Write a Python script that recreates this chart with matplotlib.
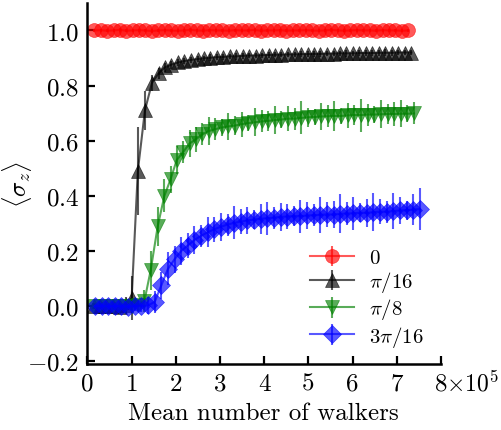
import matplotlib
matplotlib.use("Agg")
import matplotlib.pyplot as plt

plt.rcParams['font.family'] = 'serif'
plt.rcParams['font.serif'] = ['cmr10']
plt.rcParams['mathtext.fontset'] = 'cm'
plt.rcParams['axes.formatter.use_mathtext'] = True
plt.rcParams['axes.unicode_minus'] = True

# x values in units of 1e5 walkers
red_x = [0.15, 0.30, 0.44, 0.59, 0.73, 0.88, 1.02, 1.17, 1.31, 1.46, 1.60, 1.75, 1.89, 2.04, 2.18, 2.33,
         2.47, 2.62, 2.76, 2.91, 3.05, 3.20, 3.34, 3.49, 3.63, 3.78, 3.92, 4.07, 4.21, 4.36, 4.50, 4.65,
         4.79, 4.94, 5.08, 5.23, 5.37, 5.52, 5.66, 5.81, 5.95, 6.10, 6.24, 6.39, 6.53, 6.68, 6.82, 6.97,
         7.11, 7.26]
red_y = [1.0, 1.001, 0.999, 1.0, 1.002, 0.999, 1.0, 1.001, 1.0, 0.998, 1.0, 1.001, 1.0, 0.999, 1.0, 1.002,
         1.0, 0.999, 1.001, 1.0, 1.0, 0.999, 1.001, 1.0, 1.0, 1.002, 0.999, 1.0, 1.0, 1.001, 0.999, 1.0,
         1.0, 1.001, 1.0, 0.999, 1.0, 1.002, 1.0, 0.999, 1.0, 1.001, 1.0, 1.0, 0.999, 1.001, 1.0, 1.0,
         0.999, 1.0]
red_err = [0.006] * 50

black_x = [0.14, 0.29, 0.43, 0.58, 0.73, 0.87, 1.00, 1.14, 1.30, 1.46, 1.61, 1.75, 1.90, 2.05, 2.19, 2.34,
           2.49, 2.63, 2.78, 2.93, 3.07, 3.22, 3.37, 3.51, 3.66, 3.81, 3.95, 4.10, 4.25, 4.39, 4.54, 4.69,
           4.83, 4.98, 5.13, 5.27, 5.42, 5.57, 5.71, 5.86, 6.01, 6.15, 6.30, 6.45, 6.59, 6.74, 6.89, 7.03,
           7.18, 7.33]
black_y = [0.0, 0.0, 0.001, 0.0, -0.002, 0.003, 0.03, 0.49, 0.71, 0.81, 0.845, 0.866, 0.876, 0.884, 0.889, 0.893,
           0.896, 0.899, 0.901, 0.903, 0.904, 0.906, 0.906, 0.908, 0.909, 0.909, 0.910, 0.911, 0.912, 0.912, 0.913, 0.913,
           0.914, 0.914, 0.915, 0.915, 0.916, 0.916, 0.917, 0.917, 0.917, 0.918, 0.918, 0.918, 0.919, 0.919, 0.919, 0.920,
           0.920, 0.920]
black_err = [0.01, 0.01, 0.015, 0.015, 0.02, 0.03, 0.08, 0.16, 0.07, 0.03, 0.02, 0.015, 0.015, 0.012, 0.012, 0.012,
             0.01, 0.01, 0.012, 0.01, 0.01, 0.01, 0.012, 0.01, 0.01, 0.01, 0.01, 0.012, 0.01, 0.01, 0.01, 0.01,
             0.01, 0.012, 0.01, 0.01, 0.01, 0.01, 0.01, 0.012, 0.01, 0.01, 0.01, 0.01, 0.01, 0.012, 0.01, 0.01,
             0.01, 0.01]

green_x = [0.13, 0.28, 0.42, 0.57, 0.71, 0.86, 1.00, 1.15, 1.29, 1.43, 1.59, 1.74, 1.88, 2.02, 2.17, 2.31,
           2.45, 2.60, 2.74, 2.89, 3.04, 3.19, 3.34, 3.49, 3.64, 3.79, 3.94, 4.09, 4.24, 4.39, 4.54, 4.69,
           4.84, 4.99, 5.14, 5.29, 5.44, 5.59, 5.74, 5.89, 6.04, 6.19, 6.34, 6.49, 6.64, 6.79, 6.94, 7.09,
           7.24, 7.39]
green_y = [0.0, 0.001, 0.0, -0.001, 0.002, 0.0, 0.001, 0.003, 0.02, 0.13, 0.29, 0.40, 0.46, 0.53, 0.56, 0.59,
           0.605, 0.623, 0.635, 0.642, 0.648, 0.652, 0.655, 0.660, 0.664, 0.667, 0.670, 0.672, 0.675, 0.677, 0.680, 0.680,
           0.683, 0.685, 0.686, 0.688, 0.689, 0.690, 0.690, 0.692, 0.693, 0.693, 0.695, 0.695, 0.696, 0.697, 0.697, 0.698,
           0.698, 0.699]
green_err = [0.01, 0.01, 0.01, 0.01, 0.01, 0.01, 0.015, 0.02, 0.04, 0.07, 0.07, 0.06, 0.05, 0.05, 0.04, 0.05,
             0.045, 0.04, 0.05, 0.04, 0.03, 0.05, 0.035, 0.045, 0.03, 0.05, 0.04, 0.035, 0.05, 0.03, 0.045, 0.04,
             0.06, 0.035, 0.03, 0.05, 0.04, 0.055, 0.03, 0.045, 0.035, 0.06, 0.04, 0.03, 0.05, 0.035, 0.045, 0.05,
             0.03, 0.04]

blue_x = [0.17, 0.32, 0.47, 0.62, 0.77, 0.92, 1.07, 1.22, 1.37, 1.52, 1.67, 1.82, 1.97, 2.12, 2.27, 2.42,
          2.57, 2.72, 2.87, 3.02, 3.17, 3.32, 3.47, 3.62, 3.77, 3.92, 4.07, 4.22, 4.37, 4.52, 4.67, 4.82,
          4.97, 5.12, 5.27, 5.42, 5.57, 5.72, 5.87, 6.02, 6.17, 6.32, 6.47, 6.62, 6.77, 6.92, 7.07, 7.22,
          7.37, 7.52]
blue_y = [0.0, 0.002, -0.001, 0.001, 0.0, -0.002, 0.001, 0.0, 0.003, 0.015, 0.075, 0.135, 0.17, 0.20, 0.22, 0.24,
          0.255, 0.268, 0.279, 0.288, 0.296, 0.302, 0.307, 0.311, 0.314, 0.317, 0.319, 0.321, 0.324, 0.325, 0.327, 0.326,
          0.329, 0.330, 0.331, 0.333, 0.332, 0.335, 0.336, 0.337, 0.339, 0.338, 0.341, 0.343, 0.342, 0.345, 0.347, 0.348,
          0.350, 0.352]
blue_err = [0.01, 0.012, 0.01, 0.015, 0.01, 0.012, 0.02, 0.02, 0.03, 0.04, 0.05, 0.06, 0.05, 0.05, 0.045, 0.05,
            0.04, 0.055, 0.045, 0.05, 0.04, 0.06, 0.045, 0.05, 0.035, 0.055, 0.06, 0.04, 0.05, 0.045, 0.035, 0.06,
            0.05, 0.04, 0.065, 0.045, 0.05, 0.07, 0.04, 0.06, 0.035, 0.05, 0.07, 0.045, 0.04, 0.065, 0.05, 0.035,
            0.055, 0.075]

series = [
    (red_x, red_y, red_err, 'red', 'o', 10, r'$0$'),
    (black_x, black_y, black_err, 'black', '^', 10, r'$\pi/16$'),
    (green_x, green_y, green_err, 'green', 'v', 10, r'$\pi/8$'),
    (blue_x, blue_y, blue_err, 'blue', 'D', 9, r'$3\pi/16$'),
]

fig = plt.figure(figsize=(5.01, 4.31), dpi=100)
ax = fig.add_axes([0.1746, 0.153, 0.7056, 0.838])

for x, y, e, c, m, ms, lab in series:
    ax.errorbar(x, y, yerr=e, color=c, marker=m, ms=ms, mec=c, mew=0.5,
                lw=1.5, elinewidth=1.5, capsize=0, alpha=0.65, label=lab)

ax.set_xlim(0, 8)
ax.set_ylim(-0.21, 1.1)
ax.set_xticks(range(0, 9))
ax.set_xticklabels([str(i) for i in range(0, 9)])
ax.set_yticks([-0.2, 0.0, 0.2, 0.4, 0.6, 0.8, 1.0])

for s in ['top', 'right']:
    ax.spines[s].set_visible(False)
for s in ['left', 'bottom']:
    ax.spines[s].set_linewidth(1.8)

ax.tick_params(direction='in', length=6, width=1.6, labelsize=18, pad=6)

ax.set_xlabel('Mean number of walkers', fontsize=18, va='top')
ax.xaxis.set_label_coords(0.498, -0.104)
ax.set_ylabel(r'$\langle \sigma_z \rangle$', fontsize=18)
ax.yaxis.set_label_coords(-0.152, 0.5)

ax.annotate(r'$\times10^{5}$', xy=(8.12, 0), xycoords=('data', 'axes fraction'),
            xytext=(0, -4.3), textcoords='offset points', ha='left', va='top', fontsize=17)

ax.legend(loc='lower left', bbox_to_anchor=(0.63, 0.043), frameon=False, fontsize=15,
          handlelength=2.1, handletextpad=0.7, labelspacing=0.1, borderpad=0, borderaxespad=0)

fig.savefig('out.png', dpi=100)
